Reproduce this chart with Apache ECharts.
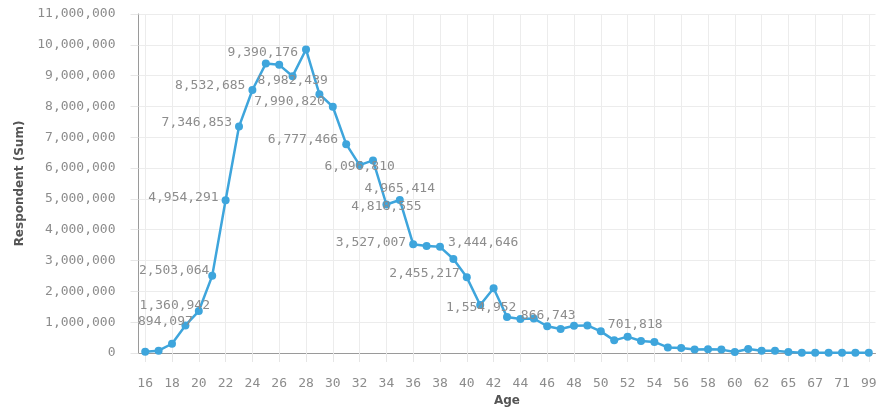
<!DOCTYPE html>
<html>
<head>
<meta charset="utf-8">
<script src="https://cdn.jsdelivr.net/npm/echarts@6/dist/echarts.min.js"></script>
<style>html,body{margin:0;padding:0;background:#fff;overflow:hidden}#c{width:877px;height:411px}</style>
</head>
<body>
<div id="c"></div>
<script>
const ages = ['16','17','18','19','20','21','22','23','24','25','26','27','28','29','30','31','32','33','34','35','36','37','38','39','40','41','42','43','44','45','46','47','48','49','50','51','52','53','54','55','56','57','58','59','60','61','62','63','65','66','67','68','71','72','99'];
const respondents = [40000,75000,300000,894097,1360942,2503064,4954291,7346853,8532685,9390176,9350000,8982439,9850000,8400000,7990820,6777466,6096810,6250000,4818555,4965414,3527007,3470000,3444646,3050000,2455217,1554952,2100000,1170000,1100000,1120000,866743,780000,885000,895000,701818,410000,530000,390000,360000,180000,160000,110000,120000,110000,30000,130000,75000,75000,30000,10000,10000,10000,10000,10000,10000];
const yTicks = {min: 0, max: 11000000, interval: 1000000};

// label placement styling (which points carry a value label and where)
const labelStyle = {
  '19': {align:'center', offset:[-20,-4]},
  '20': {align:'center', offset:[-24,-5]},
  '21': {align:'center', offset:[-38,-5]},
  '22': {align:'right', offset:[-7,-3]},
  '23': {align:'right', offset:[-7,-4]},
  '24': {align:'right', offset:[-7,-4]},
  '25': {align:'center', offset:[-3,-11]},
  '27': {align:'center', offset:[0,4]},
  '30': {align:'right', offset:[-8,-5]},
  '31': {align:'right', offset:[-8,-5]},
  '32': {align:'center', offset:[0,2]},
  '34': {align:'center', offset:[0,2]},
  '35': {align:'center', offset:[0,-11]},
  '36': {align:'right', offset:[-7,-2]},
  '38': {align:'left', offset:[8,-4]},
  '40': {align:'right', offset:[-7,-4]},
  '41': {align:'center', offset:[1,3]},
  '46': {align:'center', offset:[1,-11]},
  '50': {align:'left', offset:[7,-7]}
};

const fmt = v => Number(v).toLocaleString('en-US');
const FONT = 'DejaVu Sans Mono';
const data = respondents.map((v, i) => {
  const s = labelStyle[ages[i]];
  if (!s) return v;
  return {value: v, label: {show: true, position: 'inside', align: s.align, verticalAlign: 'middle', offset: s.offset}};
});

const chart = echarts.init(document.getElementById('c'), null, {renderer: 'canvas'});
chart.setOption({
  animation: false,
  grid: {left: 138.5, right: 1.5, top: 14, bottom: 58, containLabel: false, outerBoundsMode: 'none'},
  xAxis: {
    type: 'category',
    data: ages,
    boundaryGap: true,
    name: 'Age',
    nameLocation: 'middle',
    nameGap: 41,
    nameTextStyle: {fontFamily: 'DejaVu Sans', fontWeight: 'bold', fontSize: 12, color: '#555'},
    axisLine: {lineStyle: {color: '#9a9a9a', width: 1}},
    axisTick: {show: true, interval: 1, alignWithLabel: true, length: 9, lineStyle: {color: '#e6e6e6'}},
    axisLabel: {interval: 1, margin: 24, fontFamily: FONT, fontSize: 13, color: '#8c8c8c'},
    splitLine: {show: true, interval: 1, alignWithLabel: true, lineStyle: {color: '#ececec'}}
  },
  yAxis: {
    type: 'value',
    min: yTicks.min, max: yTicks.max, interval: yTicks.interval,
    name: 'Respondent (Sum)',
    nameLocation: 'middle',
    nameGap: 108,
    nameTextStyle: {fontFamily: 'DejaVu Sans', fontWeight: 'bold', fontSize: 12, color: '#555'},
    axisLine: {show: true, lineStyle: {color: '#9a9a9a', width: 1}},
    axisTick: {show: true, length: 8, lineStyle: {color: '#e6e6e6'}},
    axisLabel: {margin: 23, fontFamily: FONT, fontSize: 13, color: '#8c8c8c', formatter: fmt},
    splitLine: {show: true, lineStyle: {color: '#ececec'}}
  },
  series: [{
    type: 'line',
    data: data,
    symbol: 'circle',
    symbolSize: 8,
    lineStyle: {color: '#3ea5dc', width: 2.5},
    itemStyle: {color: '#3ea5dc'},
    label: {show: false, fontFamily: FONT, fontSize: 13, color: '#8c8c8c', formatter: p => fmt(p.value)}
  }]
});
</script>
</body>
</html>
